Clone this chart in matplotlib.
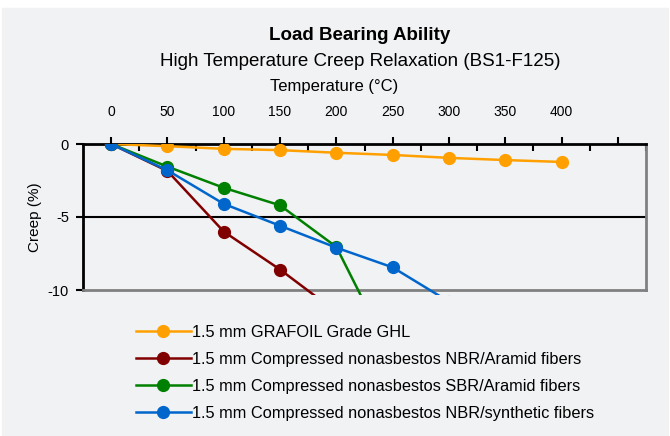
import numpy as np
import matplotlib.pyplot as plt
from matplotlib.patches import Rectangle

plt.rcParams['font.family'] = ['Liberation Sans', 'DejaVu Sans']

# temperatures (degC) and creep (%)
temp = [0, 50, 100, 150, 200, 250, 300, 350, 400]
grafoil = [0, -0.15, -0.33, -0.42, -0.6, -0.75, -0.95, -1.1, -1.23]
temp_nbr = [0, 50, 100, 150, 200]
nbr_aramid = [0, -1.85, -6.0, -8.6, -11.5]
temp_sbr = [0, 50, 100, 150, 200, 250]
sbr_aramid = [0, -1.55, -3.0, -4.2, -7.05, -14.7]
temp_syn = [0, 50, 100, 150, 200, 250, 300]
nbr_synth = [0, -1.8, -4.1, -5.6, -7.1, -8.45, -10.8]

labels = ['1.5 mm GRAFOIL Grade GHL',
          '1.5 mm Compressed nonasbestos NBR/Aramid fibers',
          '1.5 mm Compressed nonasbestos SBR/Aramid fibers',
          '1.5 mm Compressed nonasbestos NBR/synthetic fibers']
colors = ['#ffa000', '#800000', '#008000', '#0066cc']
xticks = [0, 50, 100, 150, 200, 250, 300, 350, 400, 450]
xticklabels = ['0', '50', '100', '150', '200', '250', '300', '350', '400', '']

bg = '#f1f2f4'
fig = plt.figure(figsize=(6.7, 4.36), dpi=100, facecolor='white')
fig.patches.append(Rectangle((2 / 670, 0), 666 / 670, 428 / 436,
                             transform=fig.transFigure, color=bg, zorder=-5))

ax = fig.add_axes([83 / 670, 146 / 436, 563 / 670, 146 / 436])
ax.set_facecolor(bg)

clip = Rectangle((0, -0.035), 1, 1.035, transform=ax.transAxes)
series = [(temp, grafoil), (temp_nbr, nbr_aramid), (temp_sbr, sbr_aramid), (temp_syn, nbr_synth)]
for (x, y), c, lab in zip(series, colors, labels):
    ln, = ax.plot(x, y, color=c, lw=1.8, marker='o', ms=8.5, label=lab, zorder=3)
    ln.set_clip_path(clip)

ax.set_xlim(-25, 475)
ax.set_ylim(-10, 0)
ax.axhline(-5, color='black', lw=1.5, zorder=2)

ax.xaxis.tick_top()
ax.xaxis.set_label_position('top')
ax.set_xticks(xticks)
ax.set_xticklabels(xticklabels, fontsize=10)
ax.set_xticks(np.arange(25, 476, 50), minor=True)
ax.tick_params(axis='x', which='major', direction='out', length=5, width=1.5, pad=13)
ax.tick_params(axis='x', which='minor', direction='in', length=5, width=1.5, top=True)
ax.set_xlabel('Temperature (°C)', fontsize=12, labelpad=10)
ax.xaxis.label.set_x(0.446)

ax.set_yticks([0, -5, -10])
ax.set_yticklabels(['0', '-5', '-10'], fontsize=10.5)
ax.tick_params(axis='y', direction='out', length=5, width=1.5, pad=5)
ax.set_ylabel('Creep (%)', fontsize=11, labelpad=4)

for s in ['left', 'top']:
    ax.spines[s].set_color('black')
    ax.spines[s].set_linewidth(2)
for s in ['right', 'bottom']:
    ax.spines[s].set_color('#808080')
    ax.spines[s].set_linewidth(2)

fig.text(0.537, 1 - 36 / 436, 'Load Bearing Ability', ha='center', va='center',
         fontsize=13.5, fontweight='bold')
fig.text(0.537, 1 - 62 / 436, 'High Temperature Creep Relaxation (BS1-F125)',
         ha='center', va='center', fontsize=13.5)

fig.legend(loc='upper left', bbox_to_anchor=(129 / 670, 1 - 318 / 436), frameon=False,
           fontsize=11.8, handlelength=3.4, handletextpad=0.05, labelspacing=0.74,
           borderaxespad=0)

fig.savefig('out.png', dpi=100, facecolor=fig.get_facecolor())
